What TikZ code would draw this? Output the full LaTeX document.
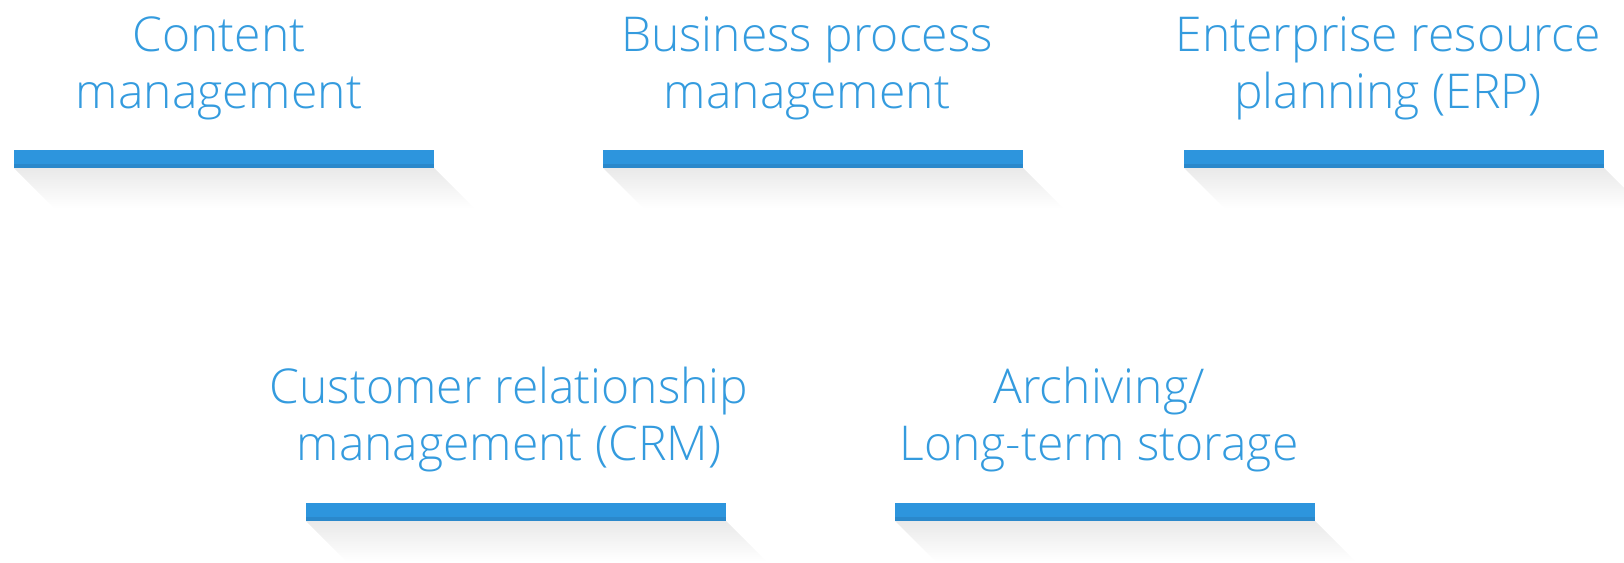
\documentclass[tikz,border=0pt]{standalone}
\usepackage{fontspec}
\IfFontExistsTF{Open Sans Light}{\setmainfont{Open Sans Light}}{\setmainfont{Open Sans}}
\definecolor{barblue}{RGB}{45,149,221}
\definecolor{bardark}{RGB}{42,136,203}
\definecolor{txtblue}{RGB}{52,155,222}
\definecolor{shadowgray}{RGB}{233,233,233}
\tikzset{
  lbl/.style={anchor=base, align=center, inner sep=0pt, text=txtblue,
    font=\fontsize{48}{56.5}\selectfont},
}
\newcommand{\mybar}[3]{% name, left x, top y
  \shade[top color=shadowgray, bottom color=white]
    (#2,#3+18) -- (#2+420,#3+18) -- (#2+460,#3+58) -- (#2+40,#3+58) -- cycle;
  \fill[barblue] (#2,#3) rectangle (#2+420,#3+18);
  \fill[bardark] (#2,#3+14) rectangle (#2+420,#3+18);
  \coordinate (#1) at (#2+210,#3);
}
\begin{document}
\begin{tikzpicture}[x=1pt,y=-1pt]
\useasboundingbox (0,0) rectangle (1624,562);
\mybar{b1}{14}{150}
\mybar{b2}{603}{150}
\mybar{b3}{1184}{150}
\mybar{b4}{306}{503}
\mybar{b5}{895}{503}
\node[lbl] (t1) at (219,108) {Content\\management};
\node[lbl] (t2) at (807,108) {Business process\\management};
\node[lbl] (t3) at (1388,108) {Enterprise resource\\planning (ERP)};
\node[lbl] (t4) at (509,460) {Customer relationship\\management (CRM)};
\node[lbl] (t5) at (1099,460) {Archiving/\\Long-term storage};
\end{tikzpicture}
\end{document}
